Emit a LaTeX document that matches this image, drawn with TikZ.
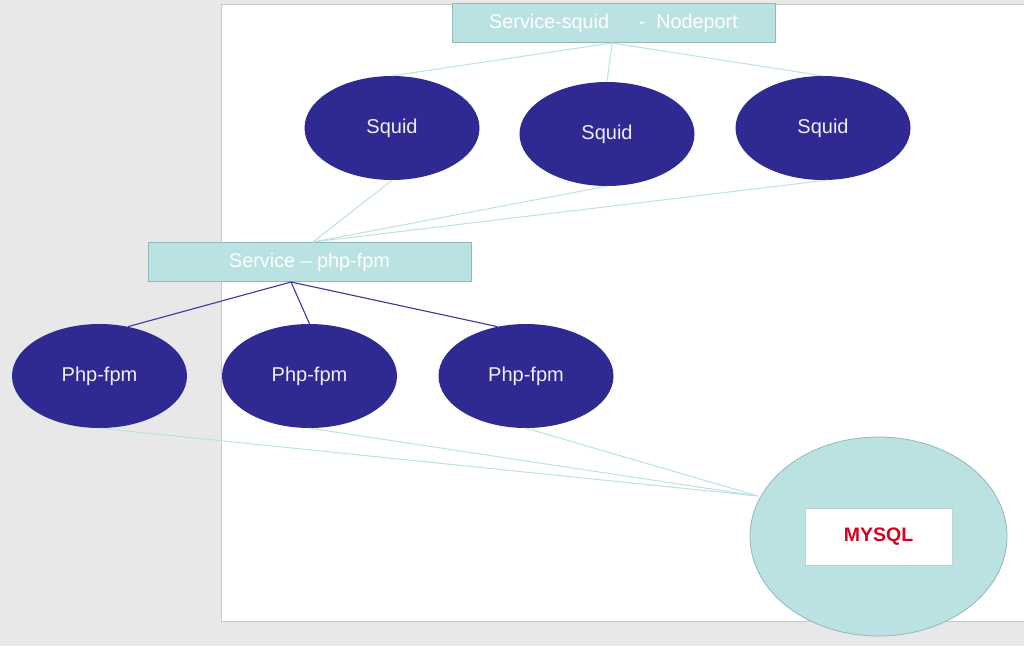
\documentclass[tikz,border=0pt]{standalone}
\usepackage{fontspec}
\setmainfont{Liberation Sans}
\usetikzlibrary{shapes.geometric}
\definecolor{bggray}{HTML}{E8E8E8}
\definecolor{slideedge}{HTML}{C8C8C8}
\definecolor{tealfill}{HTML}{BAE2E2}
\definecolor{tealedge}{HTML}{93B8B8}
\definecolor{tealline}{HTML}{BDE1E1}
\definecolor{indigo}{HTML}{2F2A92}
\definecolor{indigoline}{HTML}{3D3896}
\definecolor{mysqlred}{HTML}{D7001E}
\begin{document}
\begin{tikzpicture}[x=1pt,y=-1pt,
  svcbox/.style={draw=tealedge,fill=tealfill,line width=0.8pt,inner sep=0pt,
     minimum width=323pt,minimum height=39pt,text=white,font=\fontsize{19.8}{22}\selectfont},
  pod/.style={ellipse,fill=indigo,draw=none,inner sep=0pt,minimum width=175pt,
     minimum height=104pt,text=white!92!indigo,font=\fontsize{20}{22}\selectfont},
  lightlink/.style={draw=tealline,line width=1pt},
  darklink/.style={draw=indigoline,line width=1.1pt}]
\useasboundingbox (0,0) rectangle (1024,646);
\fill[bggray] (0,0) rectangle (1024,646);
\draw[fill=white,draw=slideedge,line width=0.8pt] (221,4) rectangle (1030,621);

% top service
\node[svcbox] (svcsquid) at (613.5,23) {Service-squid\hspace{1.5em}-\hspace{0.55em}Nodeport};
\node[pod] (sq1) at (392,128) {Squid};
\node[pod] (sq2) at (607,134) {Squid};
\node[pod] (sq3) at (823,128) {Squid};

% php service
\node[svcbox] (svcphp) at (309.5,262) {Service -- php-fpm};
\node[pod] (php1) at (99.5,376) {Php-fpm};
\node[pod] (php2) at (309.5,376) {Php-fpm};
\node[pod] (php3) at (526,376) {Php-fpm};

% mysql
\node[ellipse,draw=tealedge,fill=tealfill,line width=0.8pt,inner sep=0pt,
  minimum width=257pt,minimum height=199pt] (mysql) at (878.5,536.5) {};
\node[draw=tealedge!60,fill=white,line width=0.6pt,inner sep=0pt,minimum width=147pt,
  minimum height=57pt,text=mysqlred,font=\bfseries\fontsize{19.5}{22}\selectfont] (mysqlbox) at (878.5,536.5) {MYSQL};

% anchor coordinates
\coordinate (sqtop) at (612,43);
\coordinate (phptop) at (313,242);
\coordinate (phpbot) at (291,282);
\coordinate (dbin) at (758,496);

% links service-squid -> squids
\draw[lightlink] (sqtop) -- (sq1.north);
\draw[lightlink] (sqtop) -- (sq2.north);
\draw[lightlink] (sqtop) -- (sq3.north);
% squids -> service php
\draw[lightlink] (sq1.south) -- (phptop);
\draw[lightlink] (sq2.south) -- (phptop);
\draw[lightlink] (sq3.-85) -- (phptop);
% service php -> php pods
\draw[darklink] (phpbot) -- (php1.60);
\draw[darklink] (phpbot) -- (php2.north);
\draw[darklink] (phpbot) -- (php3.120);
% php pods -> mysql
\draw[lightlink] (php1.south) -- (dbin);
\draw[lightlink] (php2.south) -- (dbin);
\draw[lightlink] (php3.south) -- (dbin);
\end{tikzpicture}
\end{document}
